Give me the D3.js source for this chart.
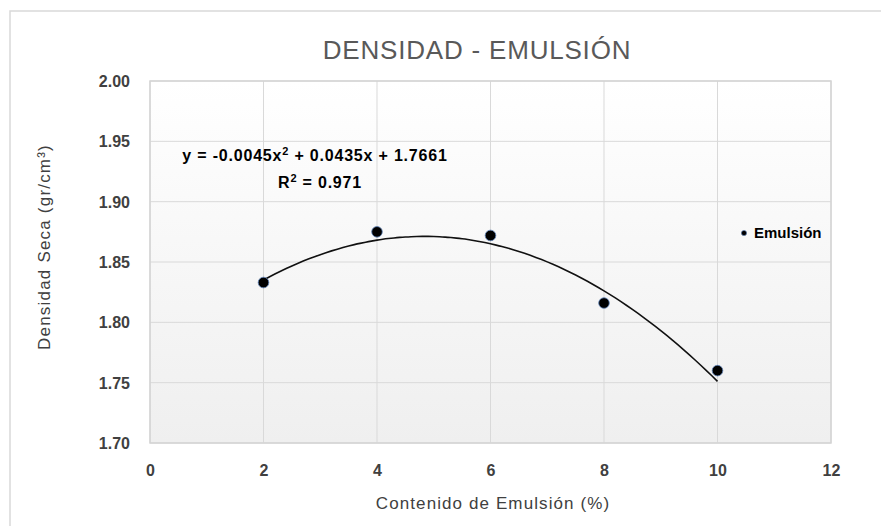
<!DOCTYPE html>
<html>
<head>
<meta charset="utf-8">
<title>Densidad - Emulsión</title>
<script src="https://d3js.org/d3.v7.min.js"></script>
<style>
  body { margin: 0; background: #fff; }
  svg { display: block; }
</style>
</head>
<body>
<svg id="chart"></svg>
<script>
// data
var emulsion = [2, 4, 6, 8, 10];
var density = [1.833, 1.875, 1.872, 1.816, 1.760];
var trendCoef = [-0.0045, 0.0435, 1.7661]; // a, b, c of the excel trendline
var xTicks = [0, 2, 4, 6, 8, 10, 12];
var yTicks = [1.70, 1.75, 1.80, 1.85, 1.90, 1.95, 2.00];

var W = 881, H = 526;
// plot box (note: "top" is taken by window.top, so use p* names)
var pLeft = 150, pRight = 831, pTop = 81, pBottom = 443;

var svg = d3.select('#chart').attr('width', W).attr('height', H);

// outer chart frame
svg.append('rect')
  .attr('x', 10).attr('y', 11)
  .attr('width', W + 20).attr('height', H + 20)
  .attr('fill', '#fff')
  .attr('stroke', '#d9d9d9').attr('stroke-width', 1.5);

var grad = svg.append('defs').append('linearGradient')
  .attr('id', 'bg').attr('x1', 0).attr('y1', 0).attr('x2', 0).attr('y2', 1);
grad.append('stop').attr('offset', '0%').attr('stop-color', '#ffffff');
grad.append('stop').attr('offset', '100%').attr('stop-color', '#efefef');

var x = d3.scaleLinear().domain([0, 12]).range([pLeft, pRight]);
var y = d3.scaleLinear().domain([1.70, 2.00]).range([pBottom, pTop]);

svg.append('rect')
  .attr('x', pLeft).attr('y', pTop)
  .attr('width', pRight - pLeft).attr('height', pBottom - pTop)
  .attr('fill', 'url(#bg)');

// grid
svg.append('g').selectAll('line').data(xTicks).enter().append('line')
  .attr('x1', function(d) { return x(d); }).attr('x2', function(d) { return x(d); })
  .attr('y1', pTop).attr('y2', pBottom)
  .attr('stroke', '#d9d9d9').attr('stroke-width', 1);
svg.append('g').selectAll('line').data(yTicks).enter().append('line')
  .attr('x1', pLeft).attr('x2', pRight)
  .attr('y1', function(d) { return y(d); }).attr('y2', function(d) { return y(d); })
  .attr('stroke', '#d9d9d9').attr('stroke-width', 1);

svg.append('rect')
  .attr('x', pLeft).attr('y', pTop)
  .attr('width', pRight - pLeft).attr('height', pBottom - pTop)
  .attr('fill', 'none').attr('stroke', '#d4d4d4').attr('stroke-width', 1.5);

// axes (labels only, excel style)
var xAxis = svg.append('g')
  .attr('transform', 'translate(0,' + (pBottom + 27) + ')')
  .call(d3.axisBottom(x).tickValues(xTicks).tickSize(0).tickFormat(d3.format('d')));
var yAxis = svg.append('g')
  .attr('transform', 'translate(' + (pLeft - 20) + ',0)')
  .call(d3.axisLeft(y).tickValues(yTicks).tickSize(0).tickFormat(d3.format('.2f')));
[xAxis, yAxis].forEach(function(a) {
  a.select('.domain').remove();
  a.selectAll('text')
    .attr('font-family', 'Liberation Sans, Arial, sans-serif')
    .attr('font-size', 16)
    .attr('font-weight', 'bold')
    .attr('fill', '#404040');
});
yAxis.selectAll('text').attr('x', 0).attr('dy', '0.35em');
xAxis.selectAll('text').attr('y', 0).attr('dy', '0.35em');

// trendline
var line = d3.line()
  .x(function(d) { return x(d); })
  .y(function(d) { return y(trendCoef[0] * d * d + trendCoef[1] * d + trendCoef[2]); })
  .curve(d3.curveMonotoneX);
svg.append('path')
  .datum(d3.range(2, 10.001, 0.1))
  .attr('d', line)
  .attr('fill', 'none').attr('stroke', '#111').attr('stroke-width', 1.6);

// points
svg.append('g').selectAll('circle').data(emulsion).enter().append('circle')
  .attr('cx', function(d) { return x(d); })
  .attr('cy', function(d, i) { return y(density[i]); })
  .attr('r', 5.3)
  .attr('fill', '#000')
  .attr('stroke', '#5b7fb5').attr('stroke-width', 0.8);

// titles
svg.append('text')
  .attr('x', 477).attr('y', 59)
  .attr('text-anchor', 'middle')
  .attr('font-family', 'Liberation Sans, Arial, sans-serif')
  .attr('font-size', 26)
  .attr('letter-spacing', 0.8)
  .attr('fill', '#595959')
  .text('DENSIDAD - EMULSIÓN');

svg.append('text')
  .attr('x', 493).attr('y', 509)
  .attr('text-anchor', 'middle')
  .attr('font-family', 'Liberation Sans, Arial, sans-serif')
  .attr('font-size', 17)
  .attr('letter-spacing', 1.1)
  .attr('fill', '#404040')
  .text('Contenido de Emulsión (%)');

svg.append('text')
  .attr('transform', 'translate(50,247) rotate(-90)')
  .attr('text-anchor', 'middle')
  .attr('font-family', 'Liberation Sans, Arial, sans-serif')
  .attr('font-size', 17)
  .attr('letter-spacing', 1.2)
  .attr('fill', '#404040')
  .text('Densidad Seca (gr/cm³)');

// trendline equation
var eq = svg.append('text')
  .attr('x', 315).attr('y', 161)
  .attr('text-anchor', 'middle')
  .attr('font-family', 'Liberation Sans, Arial, sans-serif')
  .attr('font-size', 16)
  .attr('font-weight', 'bold')
  .attr('letter-spacing', 0.8)
  .attr('fill', '#000');
eq.append('tspan').text('y = ' + trendCoef[0] + 'x');
eq.append('tspan').attr('baseline-shift', 'super').attr('font-size', 11).text('2');
eq.append('tspan').text(' + ' + trendCoef[1] + 'x + ' + trendCoef[2]);

var r2 = svg.append('text')
  .attr('x', 320).attr('y', 188)
  .attr('text-anchor', 'middle')
  .attr('font-family', 'Liberation Sans, Arial, sans-serif')
  .attr('font-size', 16)
  .attr('font-weight', 'bold')
  .attr('letter-spacing', 0.8)
  .attr('fill', '#000');
r2.append('tspan').text('R');
r2.append('tspan').attr('baseline-shift', 'super').attr('font-size', 11).text('2');
r2.append('tspan').text(' = 0.971');

// legend
svg.append('circle')
  .attr('cx', 744).attr('cy', 233).attr('r', 2.6)
  .attr('fill', '#000').attr('stroke', '#5b7fb5').attr('stroke-width', 0.6);
svg.append('text')
  .attr('x', 754).attr('y', 238)
  .attr('font-family', 'Liberation Sans, Arial, sans-serif')
  .attr('font-size', 15)
  .attr('font-weight', 'bold')
  .attr('fill', '#000')
  .text('Emulsión');
</script>
</body>
</html>
